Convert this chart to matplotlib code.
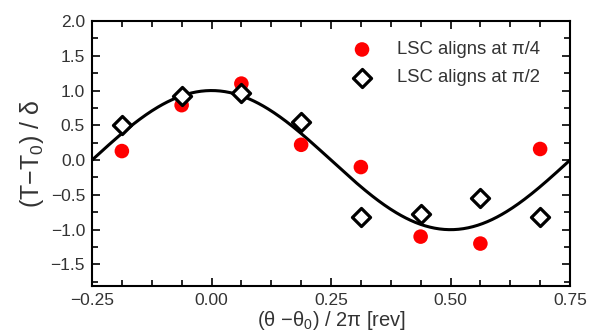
import numpy as np
import matplotlib
matplotlib.use("Agg")
import matplotlib.pyplot as plt
from matplotlib.ticker import MultipleLocator

plt.rcParams["font.family"] = ["Liberation Sans", "DejaVu Sans"]
plt.rcParams["mathtext.fontset"] = "custom"
plt.rcParams["mathtext.rm"] = "Liberation Sans"
plt.rcParams["mathtext.it"] = "Liberation Sans"

phase = [-0.1875, -0.0625, 0.0625, 0.1875, 0.3125, 0.4375, 0.5625, 0.6875]
temp_pi4 = [0.13, 0.79, 1.10, 0.22, -0.10, -1.10, -1.20, 0.16]
temp_pi2 = [0.50, 0.92, 0.97, 0.55, -0.82, -0.77, -0.55, -0.82]
label_pi4 = "LSC aligns at π/4"
label_pi2 = "LSC aligns at π/2"

text_color = "#333333"

fig = plt.figure(figsize=(6.04, 3.32), dpi=100)
ax = fig.add_axes([92 / 604, 1 - 286 / 332, (570 - 92) / 604, (286 - 21) / 332])

xs = np.linspace(-0.25, 0.75, 400)
ax.plot(xs, np.cos(2 * np.pi * xs), color="black", linewidth=2.2, zorder=2)
ax.scatter(phase, temp_pi4, s=110, color="#ff0000", edgecolors="none", zorder=3, label=label_pi4)
ax.scatter(phase, temp_pi2, s=85, marker="D", facecolors="white", edgecolors="black",
           linewidths=2.3, zorder=4, label=label_pi2)

ax.set_xlim(-0.25, 0.75)
ax.set_ylim(-1.81, 2.0)
ax.xaxis.set_minor_locator(MultipleLocator(0.0625))
ax.yaxis.set_minor_locator(MultipleLocator(0.25))
ax.set_xticks([-0.25, 0.0, 0.25, 0.5, 0.75])
ax.set_xticklabels(["\u22120.25", "0.00", "0.25", "0.50", "0.75"])
ax.set_yticks([-1.5, -1.0, -0.5, 0.0, 0.5, 1.0, 1.5, 2.0])
ax.set_yticklabels(["\u22121.5", "\u22121.0", "\u22120.5", "0.0", "0.5", "1.0", "1.5", "2.0"])
ax.tick_params(which="both", direction="in", top=True, right=True, width=1.2,
               labelsize=12.5, labelcolor=text_color, pad=5)
ax.tick_params(which="major", length=6)
ax.tick_params(which="minor", length=4)
for sp in ax.spines.values():
    sp.set_linewidth(1.5)

ax.set_xlabel("(θ \u2212θ$_0$) / 2π [rev]", fontsize=14.5, color=text_color, labelpad=1)
ax.set_ylabel("(T\u2212T$_0$) / δ", fontsize=18, color=text_color, labelpad=3)

ax.legend(loc="upper right", frameon=False, fontsize=13.3, labelcolor=text_color,
          handletextpad=0.9, borderaxespad=0.7, labelspacing=0.6,
          bbox_to_anchor=(0.98, 1.0))

fig.savefig("out.png", dpi=100)
